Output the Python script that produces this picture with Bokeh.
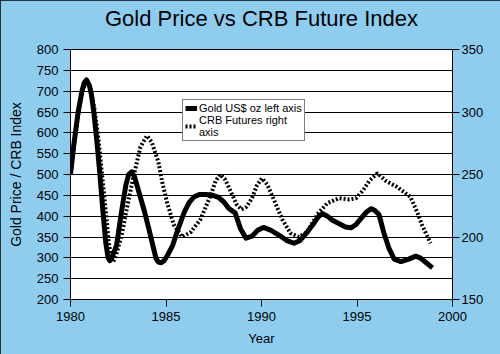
from bokeh.plotting import figure
from bokeh.models import Range1d, LinearAxis, FixedTicker, Legend, LegendItem, Title
from bokeh.embed import file_html
from bokeh.resources import INLINE

# ---- data ----
gold_year = [1980.0, 1980.17, 1980.4, 1980.6, 1980.72, 1980.84, 1981.0, 1981.1, 1981.22,
             1981.38, 1981.53, 1981.7, 1981.85, 1981.97, 1982.06, 1982.15, 1982.41, 1982.67,
             1982.9, 1983.05, 1983.2, 1983.35, 1983.6, 1983.88, 1984.1, 1984.31, 1984.48,
             1984.6, 1984.75, 1984.9, 1985.1, 1985.35, 1985.6, 1985.96, 1986.2, 1986.46,
             1986.75, 1987.1, 1987.45, 1987.75, 1988.03, 1988.3, 1988.62, 1988.9, 1989.19,
             1989.5, 1989.8, 1990.1, 1990.5, 1990.93, 1991.3, 1991.7, 1992.0, 1992.33,
             1992.77, 1993.0, 1993.2, 1993.45, 1993.72, 1994.07, 1994.4, 1994.68, 1994.95,
             1995.2, 1995.5, 1995.75, 1995.95, 1996.15, 1996.4, 1996.68, 1996.95, 1997.3,
             1997.71, 1998.08, 1998.3, 1998.5, 1998.95]
gold_price = [500, 570, 650, 700, 720, 727, 712, 690, 650,
              580, 505, 410, 335, 300, 293, 298, 330, 410,
              475, 500, 506, 495, 455, 410, 370, 330, 298,
              290, 288, 293, 308, 330, 365, 410, 432, 446,
              452, 452, 450, 445, 434, 418, 408, 370, 347,
              352, 366, 373, 366, 354, 342, 335, 341, 358,
              385, 400, 406, 400, 390, 382, 374, 372, 380,
              394, 410, 418, 413, 404, 361, 322, 297, 291,
              297, 304, 300, 293, 276]

crb_year = [1980.0, 1980.2, 1980.4, 1980.6, 1980.75, 1980.88, 1981.05, 1981.25, 1981.45,
            1981.65, 1981.85, 1982.0, 1982.12, 1982.24, 1982.4, 1982.7, 1982.98, 1983.25,
            1983.66, 1984.0, 1984.25, 1984.6, 1984.8, 1985.05, 1985.4, 1985.85, 1986.3,
            1986.8, 1987.33, 1987.6, 1987.85, 1988.1, 1988.4, 1988.7, 1988.95, 1989.2,
            1989.5, 1989.75, 1990.02, 1990.3, 1990.56, 1991.09, 1991.52, 1991.96, 1992.4,
            1992.92, 1993.44, 1994.05, 1994.6, 1994.95, 1995.3, 1995.65, 1996.07, 1996.5,
            1997.1, 1997.45, 1997.8, 1998.15, 1998.42, 1998.85]
crb_index = [250, 275, 298, 315, 322, 325, 318, 303, 280,
             250, 220, 196, 184, 180, 186, 203, 225, 245,
             272, 281, 276, 260, 244, 228, 210, 200, 204,
             214, 233, 245, 250, 246, 236, 226, 222, 224,
             231, 241, 247, 242, 233, 214, 203, 200, 204,
             218, 227, 231, 230, 231, 237, 245, 251, 245,
             240, 236, 232, 220, 209, 195]

x_ticks = [1980, 1985, 1990, 1995, 2000]
left_ticks = [200, 250, 300, 350, 400, 450, 500, 550, 600, 650, 700, 750, 800]
right_ticks = [150, 200, 250, 300, 350]

title_text = "Gold Price vs CRB Future Index"
x_label = "Year"
y_label = "Gold Price / CRB Index"
gold_label = "Gold US$ oz left axis"
crb_label = "CRB Futures right\naxis"

FONT = "Liberation Sans"
BG = "#8FCDEF"

p = figure(width=500, height=354, output_backend="svg", toolbar_location=None,
           x_range=Range1d(1980, 2000), y_range=Range1d(200, 800),
           min_border_left=70, min_border_right=48, min_border_top=49,
           min_border_bottom=55, title_location=None)
p.styles = {"outline": "2px solid black", "outline-offset": "-2px"}

# spacer between the frame and the title, then the title itself
spacer = Title(text=" ", text_font=FONT, text_font_size="10px", standoff=6,
               text_color=BG)
p.add_layout(spacer, "above")
main_title = Title(text=title_text, align="center", text_font=FONT,
                   text_font_size="22px", text_font_style="normal",
                   text_color="black", standoff=0)
p.add_layout(main_title, "above")

p.background_fill_color = "white"
p.border_fill_color = BG
p.outline_line_color = "black"
p.outline_line_width = 1

p.xgrid.visible = False
p.ygrid.ticker = FixedTicker(ticks=left_ticks)
p.ygrid.grid_line_color = "black"
p.ygrid.grid_line_width = 1

def style_axis(ax):
    ax.major_label_text_font = FONT
    ax.major_label_text_font_size = "13px"
    ax.major_label_text_color = "black"
    ax.axis_label_text_font = FONT
    ax.axis_label_text_font_size = "13px"
    ax.axis_label_text_font_style = "normal"
    ax.axis_label_text_color = "black"
    ax.axis_line_color = "black"
    ax.major_tick_line_color = "black"
    ax.major_tick_out = 7
    ax.major_tick_in = 0
    ax.minor_tick_line_color = None

xa = p.xaxis[0]
xa.ticker = FixedTicker(ticks=x_ticks)
xa.axis_label = x_label
style_axis(xa)
xa.axis_label_standoff = 7

ya = p.yaxis[0]
ya.ticker = FixedTicker(ticks=left_ticks)
ya.axis_label = y_label
style_axis(ya)
ya.axis_label_standoff = 10
ya.axis_label_text_font_size = "14px"

p.extra_y_ranges = {"crb": Range1d(150, 350)}
ra = LinearAxis(y_range_name="crb", ticker=FixedTicker(ticks=right_ticks))
style_axis(ra)
ra.major_label_standoff = 2
p.add_layout(ra, "right")

g = p.line(gold_year, gold_price, line_color="black", line_width=5, line_join="round")
c = p.line(crb_year, crb_index, y_range_name="crb", line_color="black", line_width=4,
           line_dash="2 2")

legend = Legend(items=[LegendItem(label=gold_label, renderers=[g]),
                       LegendItem(label=crb_label, renderers=[c])],
                location=(112, 158))
legend.label_text_font = FONT
legend.label_text_font_size = "11px"
legend.label_text_color = "black"
legend.border_line_color = "black"
legend.border_line_width = 1
legend.background_fill_color = "white"
legend.background_fill_alpha = 1
legend.glyph_width = 12
legend.glyph_height = 12
legend.label_standoff = 2
legend.label_height = 12
legend.padding = 2
legend.spacing = 0
legend.margin = 0
p.add_layout(legend)

open("out.html", "w").write(file_html(p, INLINE))
